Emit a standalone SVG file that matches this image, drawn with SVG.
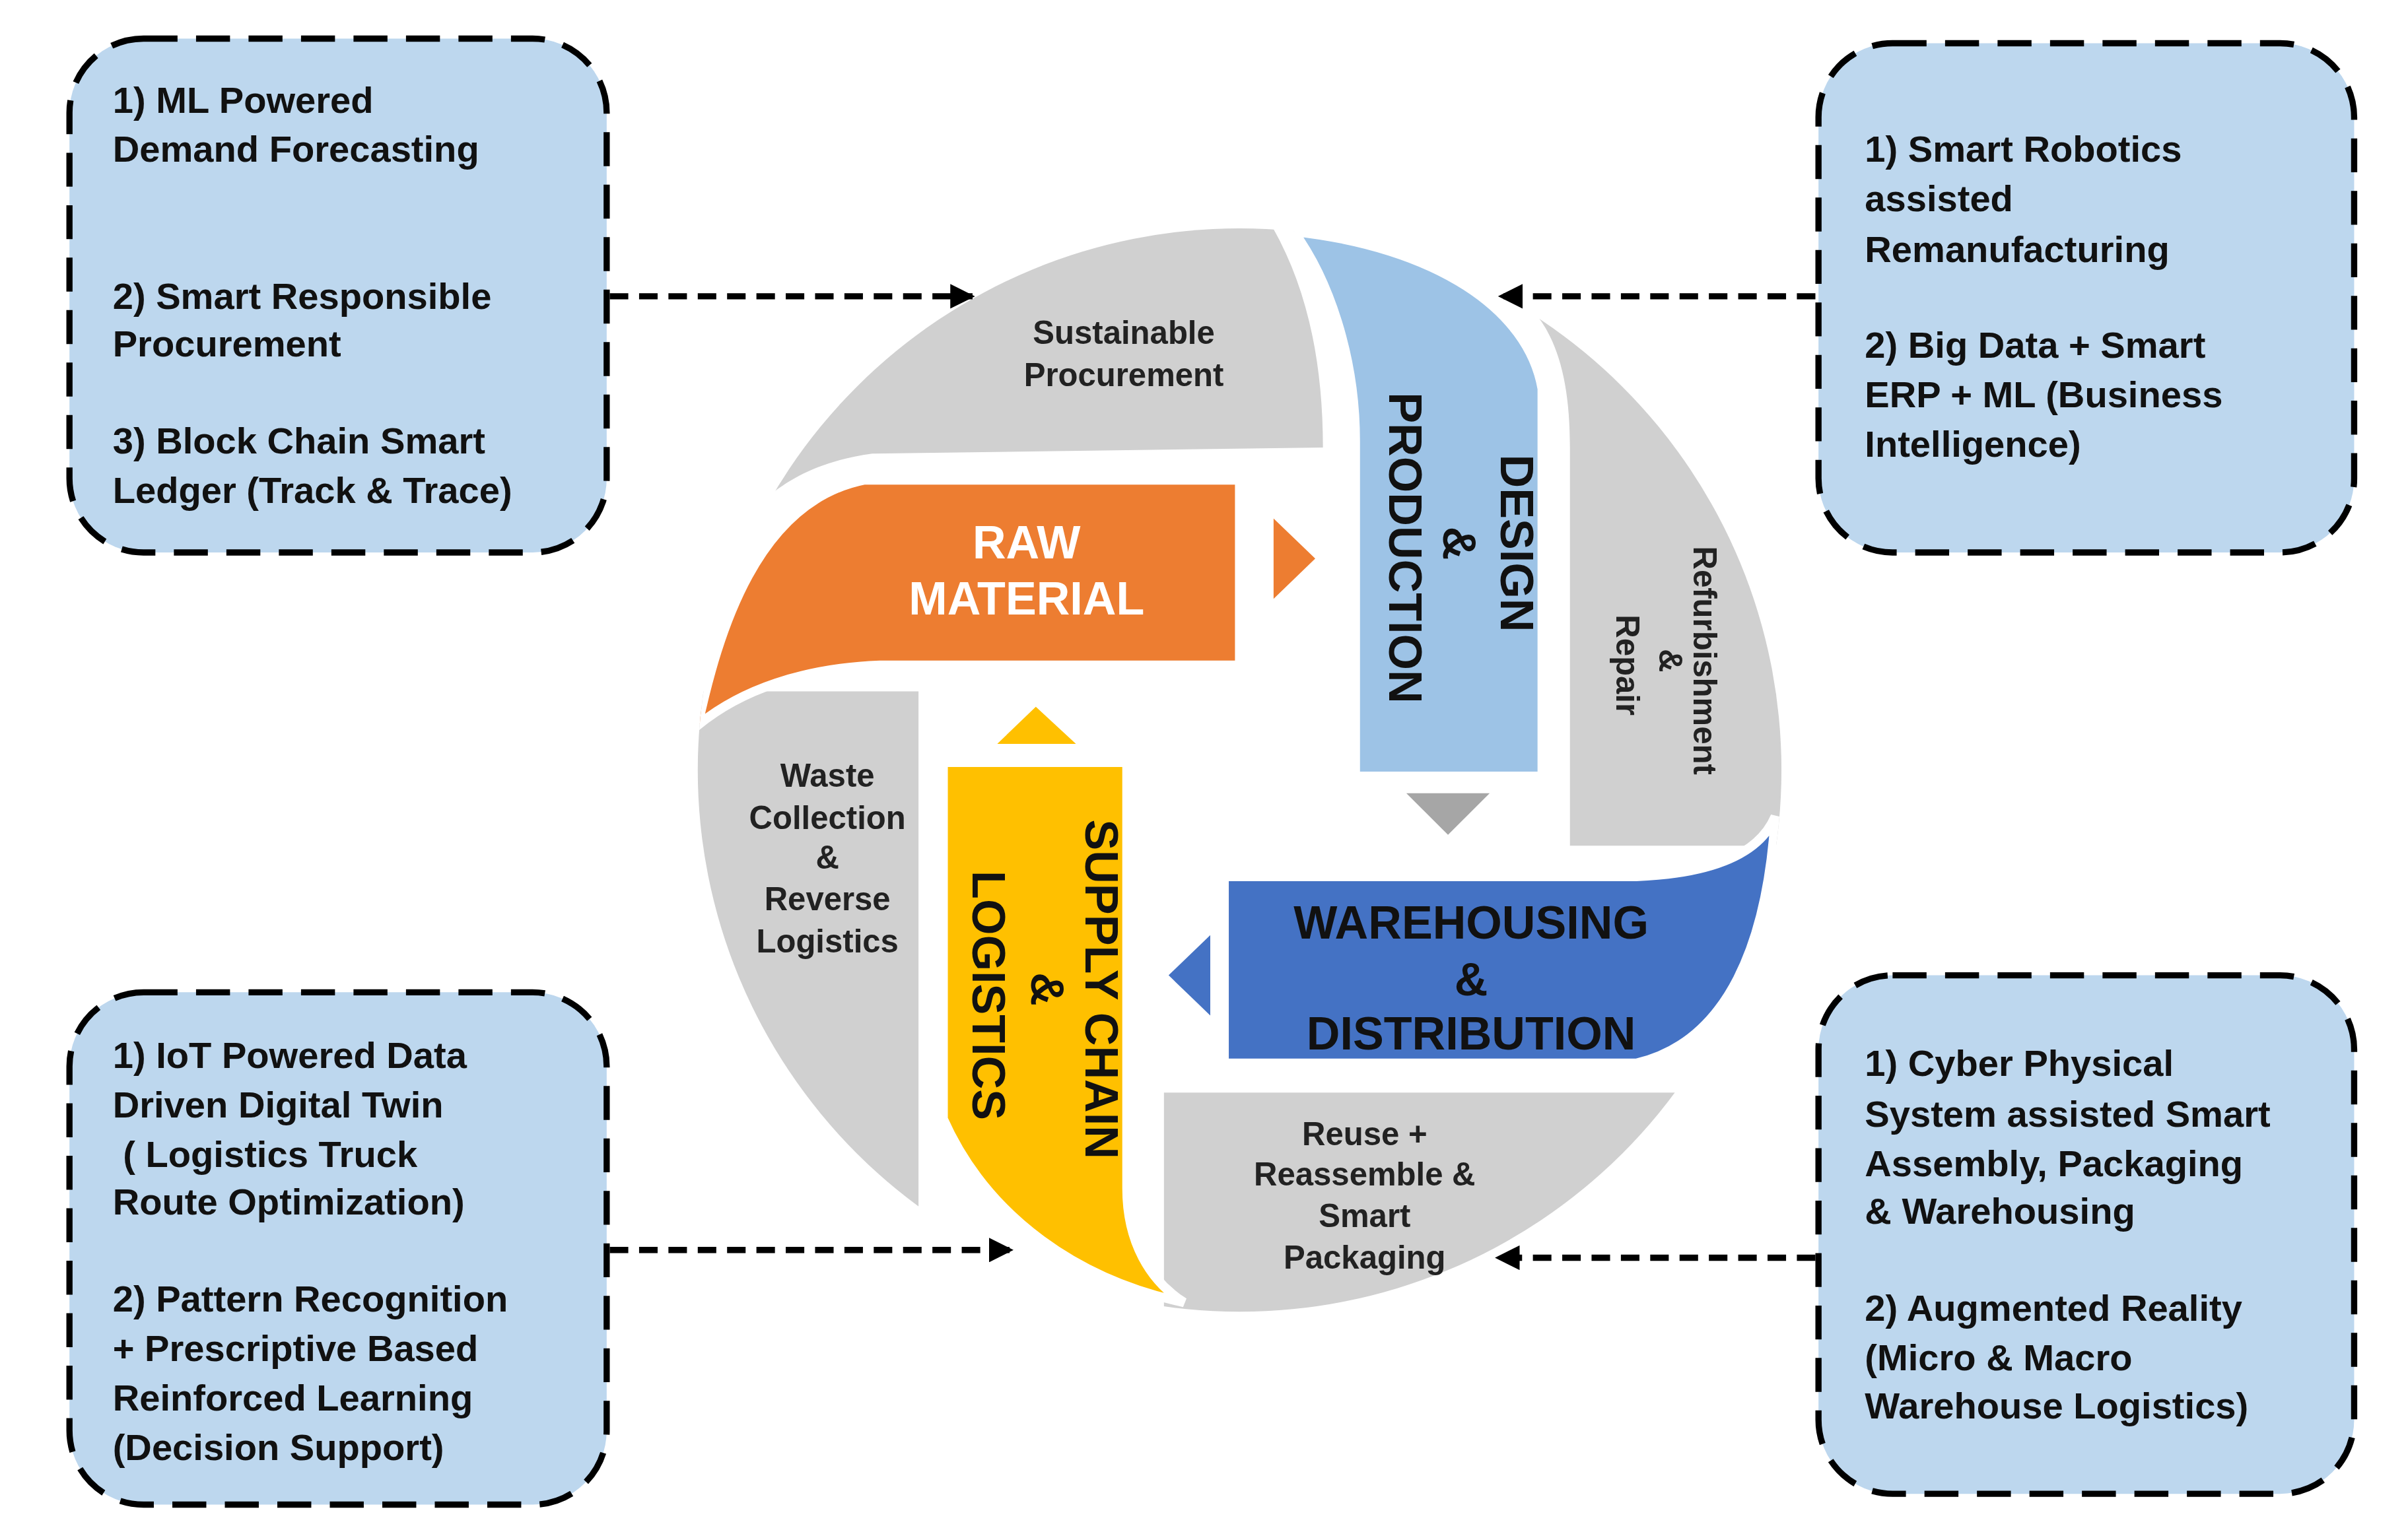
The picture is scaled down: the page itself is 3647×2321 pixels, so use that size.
<svg xmlns="http://www.w3.org/2000/svg" width="3647" height="2321" viewBox="0 0 3647 2321">
<style>
.box{fill:#BDD7EE;stroke:#000;stroke-width:4;stroke-dasharray:22 12}
.bt{font-family:"Liberation Sans",Arial,sans-serif;font-weight:bold;font-size:24px;fill:#111}
.gt{font-family:"Liberation Sans",Arial,sans-serif;font-weight:bold;font-size:21px;fill:#222;text-anchor:middle}
.big{font-family:"Liberation Sans",Arial,sans-serif;font-weight:bold;font-size:30px;fill:#111;text-anchor:middle}
.gray{fill:#D0D0D0}
.band{stroke:#fff;stroke-width:6}
.conn{fill:none;stroke:#000;stroke-width:4;stroke-dasharray:12 7}
</style>
<defs>
<clipPath id="c"><circle cx="803" cy="499" r="351"/></clipPath>
<marker id="ah" viewBox="0 0 10 10" refX="9" refY="5" markerWidth="4" markerHeight="4" orient="auto"><path d="M0 0 L10 5 L0 10 Z" fill="#000"/></marker>
</defs>
<rect width="3647" height="2321" fill="#fff"/>
<g transform="scale(2.338)">
<g id="wheel">
<g clip-path="url(#c)">
<path class="gray" d="M440 140 L820 140 C845 180 857 230 857 290 L565 294 C520 300 495 320 475 345 L440 345 Z"/>
<path class="gray" d="M992 200 C1010 220 1017 250 1017 290 L1017 548 L1170 548 L1170 140 L992 140 Z"/>
<rect class="gray" x="754" y="708" width="420" height="160"/>
<rect class="gray" x="440" y="448" width="155" height="420"/>
<path class="band" fill="#ED7D31" d="M452 470 C465 410 490 325 560 311 L803 311 L803 431 L570 431 C520 433 480 447 452 470 Z"/>
<path class="band" fill="#9DC3E6" d="M838 150 C930 160 990 200 999 252 L999 503 L878 503 L878 286 C878 230 860 180 838 150 Z"/>
<path class="band" fill="#4472C4" d="M793 568 L1060 568 C1110 566 1140 553 1150 529 C1145 610 1120 675 1060 689 L793 689 Z"/>
<path class="band" fill="#FFC000" d="M611 494 L730 494 L730 770 C730 805 745 830 767 844 C700 830 640 790 611 725 Z"/>
</g>
<path fill="#ED7D31" d="M825 336 L852 362 L825 388 Z"/>
<path fill="#A6A6A6" d="M911 514 L965 514 L938 541 Z"/>
<path fill="#4472C4" d="M757 632 L784 606 L784 658 Z"/>
<path fill="#FFC000" d="M646 482 L697 482 L671 458 Z"/>
<text class="gt"><tspan x="728" y="223">Sustainable</tspan><tspan x="728" y="250">Procurement</tspan></text>
<text class="big" style="fill:#fff"><tspan x="665" y="362">RAW</tspan><tspan x="665" y="398">MATERIAL</tspan></text>
<text class="big" transform="translate(972,352) rotate(90)" x="0" y="0">DESIGN</text>
<text class="big" transform="translate(935,352) rotate(90)" x="0" y="0">&amp;</text>
<text class="big" transform="translate(900,355) rotate(90)" x="0" y="0">PRODUCTION</text>
<text class="gt" transform="translate(1097,428) rotate(90)">Refurbishment</text>
<text class="gt" transform="translate(1075,428) rotate(90)">&amp;</text>
<text class="gt" transform="translate(1047,431) rotate(90)">Repair</text>
<text class="big"><tspan x="953" y="608">WAREHOUSING</tspan><tspan x="953" y="645">&amp;</tspan><tspan x="953" y="680">DISTRIBUTION</tspan></text>
<text class="big" transform="translate(703,641) rotate(90)">SUPPLY CHAIN</text>
<text class="big" transform="translate(668,641) rotate(90)">&amp;</text>
<text class="big" transform="translate(630,645) rotate(90)">LOGISTICS</text>
<text class="gt"><tspan x="536" y="510">Waste</tspan><tspan x="536" y="537">Collection</tspan><tspan x="536" y="563">&amp;</tspan><tspan x="536" y="590">Reverse</tspan><tspan x="536" y="617">Logistics</tspan></text>
<text class="gt"><tspan x="884" y="742">Reuse +</tspan><tspan x="884" y="768">Reassemble &amp;</tspan><tspan x="884" y="795">Smart</tspan><tspan x="884" y="822">Packaging</tspan></text>
</g>
<g id="box-tl">
<rect class="box" x="45" y="25" width="348" height="333" rx="48"/>
<text class="bt"><tspan x="73" y="73">1) ML Powered</tspan><tspan x="73" y="105">Demand Forecasting</tspan><tspan x="73" y="200">2) Smart Responsible</tspan><tspan x="73" y="231">Procurement</tspan><tspan x="73" y="294">3) Block Chain Smart</tspan><tspan x="73" y="326">Ledger (Track &amp; Trace)</tspan></text>
</g>
<g id="box-tr">
<rect class="box" x="1178" y="28" width="347" height="330" rx="48"/>
<text class="bt"><tspan x="1208" y="105">1) Smart Robotics</tspan><tspan x="1208" y="137">assisted</tspan><tspan x="1208" y="170">Remanufacturing</tspan><tspan x="1208" y="232">2) Big Data + Smart</tspan><tspan x="1208" y="264">ERP + ML (Business</tspan><tspan x="1208" y="296">Intelligence)</tspan></text>
</g>
<g id="box-bl">
<rect class="box" x="45" y="643" width="348" height="332" rx="48"/>
<text class="bt" xml:space="preserve"><tspan x="73" y="692">1) IoT Powered Data</tspan><tspan x="73" y="724">Driven Digital Twin</tspan><tspan x="73" y="756"> ( Logistics Truck</tspan><tspan x="73" y="787">Route Optimization)</tspan><tspan x="73" y="850">2) Pattern Recognition</tspan><tspan x="73" y="882">+ Prescriptive Based</tspan><tspan x="73" y="914">Reinforced Learning</tspan><tspan x="73" y="946">(Decision Support)</tspan></text>
</g>
<g id="box-br">
<rect class="box" x="1178" y="632" width="347" height="336" rx="48"/>
<text class="bt"><tspan x="1208" y="697">1) Cyber Physical</tspan><tspan x="1208" y="730">System assisted Smart</tspan><tspan x="1208" y="762">Assembly, Packaging</tspan><tspan x="1208" y="793">&amp; Warehousing</tspan><tspan x="1208" y="856">2) Augmented Reality</tspan><tspan x="1208" y="888">(Micro &amp; Macro</tspan><tspan x="1208" y="919">Warehouse Logistics)</tspan></text>
</g>
<g id="connectors">
<path class="conn" d="M395 192 L630 192" marker-end="url(#ah)"/>
<path class="conn" d="M1176 192 L972 192" marker-end="url(#ah)"/>
<path class="conn" d="M395 810 L655 810" marker-end="url(#ah)"/>
<path class="conn" d="M1176 815 L970 815" marker-end="url(#ah)"/>
</g>
</g>
</svg>
